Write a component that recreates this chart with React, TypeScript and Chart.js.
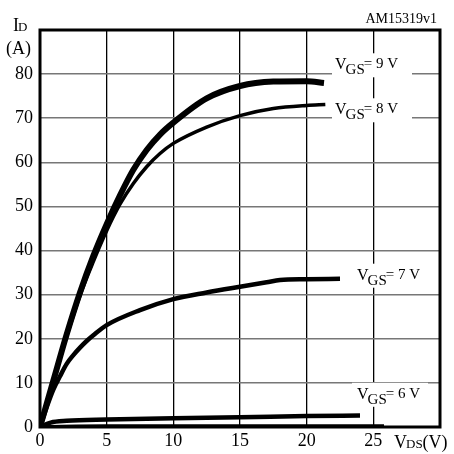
import React, { useEffect, useRef } from "react";
import { Chart, registerables } from "chart.js";

Chart.register(...registerables);

const vds9 = [0, 1, 2, 3, 4, 5, 6, 7, 8, 9, 10, 12.5, 15, 17.5, 20, 21.3];
const id9 = [0, 10.5, 21, 30.5, 38.8, 46, 52.5, 58.3, 62.8, 66.3, 69, 74.5, 77.3, 78.3, 78.4, 78];

const vds8 = [0, 1, 2, 3, 4, 5, 6, 7, 8, 9, 10, 12.5, 15, 17.5, 20, 21.4];
const id8 = [0, 10.3, 20.5, 29.8, 37.5, 44.5, 50.5, 55.2, 59, 62, 64.3, 68, 70.6, 72.2, 72.9, 73.1];

const vds7 = [0, 0.5, 1, 1.5, 2, 2.5, 3, 3.5, 4, 5, 7.5, 10, 12.5, 15, 17, 18, 20, 22.5];
const id7 = [0, 4.5, 8.5, 11.5, 14.3, 16.3, 18, 19.5, 20.8, 23.1, 26.5, 29, 30.5, 31.8, 32.8, 33.3, 33.5, 33.6];

const vds6 = [0, 0.8, 2, 5, 10, 15, 20, 24];
const id6 = [0, 1.0, 1.4, 1.7, 2.0, 2.2, 2.5, 2.6];

const vds5 = [0, 5, 25.8];
const id5 = [0, 0.15, 0.15];

const xTicks = [0, 5, 10, 15, 20, 25];
const yTicks = [0, 10, 20, 30, 40, 50, 60, 70, 80];

const curveLabels = [
  { num: "9", y: 82 },
  { num: "8", y: 71.8 },
  { num: "7", y: 34.3 },
  { num: "6", y: 7.3 },
];

const SERIF = "'Liberation Serif', 'Times New Roman', serif";

const pts = (xs: number[], ys: number[]) => xs.map((x, i) => ({ x, y: ys[i] }));

export default function App() {
  const ref = useRef<HTMLCanvasElement | null>(null);

  useEffect(() => {
    const canvas = ref.current;
    if (!canvas) return;

    const overlay = {
      id: "overlay",
      afterDraw(chart: any) {
        const ctx = chart.ctx as CanvasRenderingContext2D;
        const a = chart.chartArea;
        const ys = chart.scales.y;
        ctx.save();
        curveLabels.forEach((l, i) => {
          const py = ys.getPixelForValue(l.y);
          const left = i < 2 ? 332 : 352;
          const right = i < 2 ? 412 : 428;
          ctx.fillStyle = "#fff";
          ctx.fillRect(left, py - 12, right - left, 24);
          ctx.fillStyle = "#000";
          ctx.textBaseline = "alphabetic";
          const sx = i < 2 ? 335 : 357;
          ctx.font = `16px ${SERIF}`;
          ctx.fillText("V", sx, py + 4);
          let w = ctx.measureText("V").width;
          ctx.font = `15px ${SERIF}`;
          ctx.fillText("GS", sx + w - 1, py + 9);
          w += ctx.measureText("GS").width - 2;
          ctx.font = `15px ${SERIF}`;
          ctx.fillText("= " + l.num + " V", sx + w, py + 3);
        });
        ctx.strokeStyle = "#000";
        ctx.lineWidth = 3;
        ctx.strokeRect(a.left, a.top, a.right - a.left, a.bottom - a.top);
        ctx.fillStyle = "#000";
        ctx.textBaseline = "alphabetic";
        ctx.font = `18px ${SERIF}`;
        ctx.fillText("I", 13, 31);
        let w = ctx.measureText("I").width;
        ctx.font = `13px ${SERIF}`;
        ctx.fillText("D", 13 + w - 1, 31);
        ctx.font = `18px ${SERIF}`;
        ctx.fillText("(A)", 6, 54);
        ctx.font = `18px ${SERIF}`;
        ctx.fillText("V", 394, 448);
        w = ctx.measureText("V").width;
        ctx.font = `13px ${SERIF}`;
        ctx.fillText("DS", 394 + w - 1, 448);
        const w2 = ctx.measureText("DS").width;
        ctx.font = `18px ${SERIF}`;
        ctx.fillText("(V)", 394 + w + w2 - 1, 448);
        ctx.font = `14px ${SERIF}`;
        ctx.textAlign = "right";
        ctx.fillText("AM15319v1", 437, 23);
        ctx.restore();
      },
    };

    const mk = (xs: number[], ys: number[], w: number) => ({
      data: pts(xs, ys),
      borderColor: "#000",
      backgroundColor: "#000",
      borderWidth: w,
      pointRadius: 0,
      fill: false,
      cubicInterpolationMode: "monotone" as const,
      borderCapStyle: "butt" as const,
    });

    const chart = new Chart(canvas, {
      type: "line",
      data: {
        datasets: [
          mk(vds9, id9, 6),
          mk(vds8, id8, 3.5),
          mk(vds7, id7, 4.5),
          mk(vds6, id6, 4.5),
          mk(vds5, id5, 4),
        ],
      },
      options: {
        responsive: false,
        animation: false,
        events: [],
        layout: { padding: { top: 30, right: 14, left: 0, bottom: 0 } },
        plugins: { legend: { display: false }, tooltip: { enabled: false } },
        scales: {
          x: {
            type: "linear",
            min: 0,
            max: 30,
            afterBuildTicks: (s: any) => {
              s.ticks = [...xTicks, 30].map((v) => ({ value: v }));
            },
            afterFit: (s: any) => {
              s.height = 27;
            },
            ticks: {
              callback: (v: any) => (xTicks.includes(Number(v)) ? String(v) : ""),
              color: "#000",
              font: { family: SERIF, size: 18 },
              padding: 3,
              maxRotation: 0,
              autoSkip: false,
            },
            grid: { color: "#000", lineWidth: 1.3, drawTicks: false },
            border: { display: false },
          },
          y: {
            type: "linear",
            min: 0,
            max: 90,
            afterBuildTicks: (s: any) => {
              s.ticks = [...yTicks, 90].map((v) => ({ value: v }));
            },
            afterFit: (s: any) => {
              s.width = 40;
            },
            ticks: {
              callback: (v: any) => (yTicks.includes(Number(v)) ? String(v) : ""),
              color: "#000",
              font: { family: SERIF, size: 18 },
              padding: 7,
              autoSkip: false,
            },
            grid: { color: "#777", lineWidth: 1.5, drawTicks: false },
            border: { display: false },
          },
        },
      },
      plugins: [overlay],
    });
    return () => chart.destroy();
  }, []);

  return (
    <div style={{ position: "fixed", left: 0, top: 0, width: 454, height: 454, background: "#fff" }}>
      <canvas ref={ref} width={454} height={454} style={{ width: 454, height: 454, display: "block" }} />
    </div>
  );
}
